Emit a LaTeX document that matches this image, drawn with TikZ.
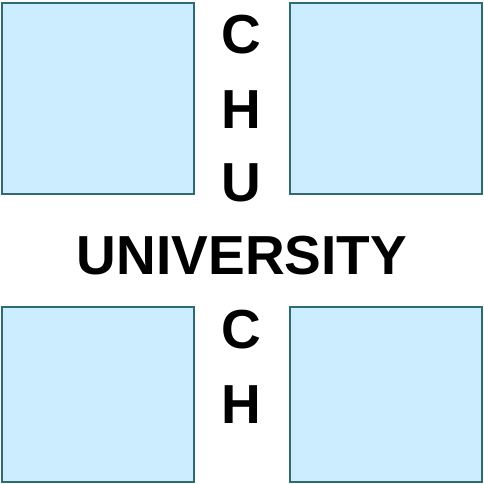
\documentclass[tikz,border=0pt]{standalone}
\usepackage{fontspec}
\setmainfont{Liberation Sans}
\definecolor{boxfill}{HTML}{CCECFF}
\definecolor{boxline}{HTML}{2F6B6F}
\tikzset{
  square/.style={fill=boxfill, draw=boxline, line width=1.5pt},
  letter/.style={font=\fontsize{55}{55}\selectfont\bfseries, inner sep=0pt}
}
\begin{document}
\begin{tikzpicture}[x=1pt, y=-1pt]
    \useasboundingbox (0,0) rectangle (484,483);

    \draw[square] (2,3) rectangle (194,194);
    \draw[square] (290,3) rectangle (482,194);
    \draw[square] (2,307) rectangle (194,482);
    \draw[square] (290,307) rectangle (482,482);

    \node[letter] (c1) at (241,35) {C};
    \node[letter] (h1) at (241,110) {H};
    \node[letter] (u1) at (241,183) {U};
    \node[letter] (univ) at (242,256) {UNIVERSITY};
    \node[letter] (c2) at (241,330) {C};
    \node[letter] (h2) at (241,405) {H};
\end{tikzpicture}
\end{document}
